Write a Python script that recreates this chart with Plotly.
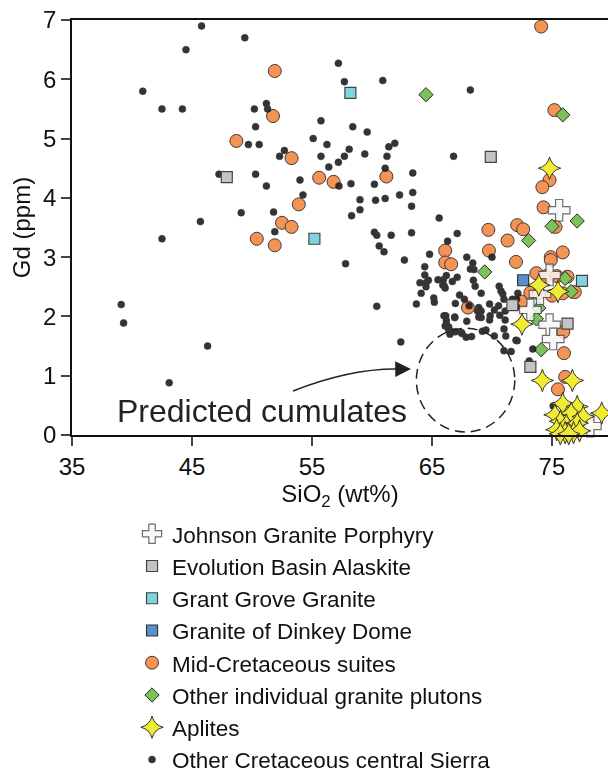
import plotly.graph_objects as go

# ---------------- data (SiO2 wt%, Gd ppm) ----------------
johnson_x = [75.6, 74.8, 74.0, 73.2, 74.8, 75.1, 78.2]
johnson_y = [3.79, 2.70, 2.38, 2.11, 1.86, 1.62, 0.15]

evolution_x = [47.9, 69.9, 71.7, 76.3, 73.2]
evolution_y = [4.35, 4.69, 2.19, 1.88, 1.15]

grantgrove_x = [58.2, 55.2, 77.5]
grantgrove_y = [5.77, 3.31, 2.60]

dinkey_x = [72.6]
dinkey_y = [2.61]

midcret_x = [51.9, 51.75, 48.7, 53.3, 53.9, 52.5, 53.3, 50.4, 51.9, 55.6, 56.8, 61.2,
             74.1, 75.2, 74.8, 74.2, 74.3, 72.1, 72.6, 75.3, 69.7, 71.3, 66.1, 69.75,
             75.9, 74.9, 74.9, 72.0, 66.1, 66.6, 73.7, 74.5, 75.4, 76.3, 68.0, 72.45,
             73.2, 73.9, 75.0, 75.9, 76.9, 75.95, 76.0, 76.1, 75.5]
midcret_y = [6.14, 5.38, 4.96, 4.67, 3.89, 3.58, 3.51, 3.31, 3.20, 4.34, 4.27, 4.36,
             6.89, 5.48, 4.30, 4.18, 3.84, 3.54, 3.47, 3.51, 3.46, 3.28, 3.11, 3.11,
             3.08, 3.00, 2.95, 2.92, 2.91, 2.88, 2.73, 2.68, 2.68, 2.67, 2.15, 2.25,
             2.40, 2.39, 2.35, 2.39, 2.41, 1.74, 1.38, 0.98, 0.77]

othergranite_x = [64.5, 75.9, 77.1, 75.0, 73.05, 76.1, 76.6, 73.9, 73.7, 74.1, 69.4]
othergranite_y = [5.74, 5.40, 3.61, 3.52, 3.28, 2.64, 2.42, 2.14, 1.96, 1.44, 2.75]

aplite_x = [74.8, 73.9, 75.5, 72.5, 74.2, 76.7, 79.15,
            75.9, 77.1, 75.25, 76.6, 77.6, 75.7, 76.2, 77.1, 75.4, 76.1, 76.8, 77.3, 75.7, 76.4]
aplite_y = [4.50, 2.53, 2.42, 1.87, 0.92, 0.92, 0.37,
            0.53, 0.48, 0.34, 0.37, 0.31, 0.23, 0.17, 0.20, 0.09, 0.04, 0.04, 0.07, 0.02, 0.02]

othercret_x = [45.8, 49.4, 44.5, 40.9, 42.5, 44.2, 51.2, 50.2, 51.3, 50.3, 49.7, 50.6, 52.7,
               52.3, 47.25, 50.3, 54.0, 51.2, 54.25, 49.1, 51.8, 45.7, 51.9, 42.5, 39.1, 39.3,
               46.3, 43.1,
               57.2, 57.7, 60.9, 68.2, 55.75, 58.4, 59.6, 55.1, 56.25, 58.1, 61.9, 61.4, 55.75,
               57.7, 59.4, 61.25, 66.8, 57.2, 56.4, 61.1, 63.4, 57.25, 58.25, 60.2, 62.3, 63.4,
               59.0, 60.3, 61.1, 59.0, 58.3, 63.3, 65.6, 60.2, 60.4, 61.6, 63.3, 67.1, 66.3,
               60.6, 61.0, 64.8, 62.7, 57.8, 60.4, 63.7, 62.4,
               67.9, 70.0, 68.4, 68.2, 68.5, 64.4, 64.4, 64.0, 64.5, 64.7, 64.5, 65.5, 65.95,
               66.0, 66.2, 66.7, 67.1, 65.9, 66.1, 68.45, 68.6, 69.1, 64.1, 65.15, 65.2, 67.3,
               67.7, 66.95, 68.1, 68.9, 68.8, 69.1, 69.8, 70.55, 70.2, 69.8, 69.85, 69.1, 68.9,
               67.9, 66.9, 66.15, 66.2, 66.1, 66.4, 66.65, 66.5, 66.95, 67.45, 67.85, 68.3,
               69.2, 69.5, 70.2, 71.0, 71.15, 72.0, 71.1, 71.1, 70.65, 70.6, 70.75, 70.9, 71.0,
               72.15, 71.0, 71.6, 73.4, 73.1, 75.1, 66.0, 66.9, 66.4, 66.2, 67.5, 72.05, 71.7,
               72.1, 72.05]
othercret_y = [6.90, 6.70, 6.50, 5.80, 5.50, 5.50, 5.59, 5.50, 5.50, 5.20, 4.90, 4.90, 4.80,
               4.70, 4.40, 4.40, 4.30, 4.20, 4.05, 3.75, 3.76, 3.60, 3.43, 3.31, 2.20, 1.89,
               1.50, 0.88,
               6.27, 5.96, 5.98, 5.82, 5.30, 5.20, 5.11, 5.00, 4.90, 4.82, 4.92, 4.86, 4.70,
               4.70, 4.74, 4.70, 4.70, 4.60, 4.52, 4.50, 4.42, 4.20, 4.24, 4.23, 4.05, 4.09,
               3.97, 3.96, 3.99, 3.80, 3.70, 3.86, 3.66, 3.42, 3.37, 3.37, 3.41, 3.40, 3.27,
               3.19, 3.09, 3.05, 2.95, 2.89, 2.17, 2.21, 1.57,
               3.00, 3.00, 2.90, 2.80, 2.79, 2.84, 2.70, 2.57, 2.57, 2.61, 2.50, 2.62, 2.62,
               2.52, 2.69, 2.59, 2.66, 2.53, 2.48, 2.61, 2.51, 2.39, 2.39, 2.31, 2.24, 2.36,
               2.29, 2.22, 2.18, 2.15, 2.09, 2.09, 2.21, 2.18, 2.11, 1.94, 2.01, 1.98, 1.99,
               1.92, 1.98, 2.01, 1.93, 1.84, 1.77, 1.74, 1.70, 1.74, 1.73, 1.65, 1.66,
               1.75, 1.77, 1.67, 1.79, 1.67, 1.60, 1.94, 2.09, 2.02, 2.51, 2.43, 2.38, 2.29,
               2.39, 1.42, 1.41, 1.45, 1.25, 0.49, 2.01, 1.99, 1.82, 1.87, 1.71, 2.29, 2.29,
               1.59, 2.16]

x_ticks = [35, 45, 55, 65, 75]
y_ticks = [0, 1, 2, 3, 4, 5, 6, 7]

FONT = "Liberation Sans, Arial, Helvetica, sans-serif"
EDGE = "#2a2a2a"

fig = go.Figure()

def add(name, xs, ys, symbol, size, color, rank, opacity=1.0, lw=1.0, lc=EDGE):
    fig.add_trace(go.Scatter(
        x=xs, y=ys, mode="markers", name=name, legendrank=rank,
        legendgroup=name, cliponaxis=False, opacity=opacity,
        marker=dict(symbol=symbol, size=size, color=color,
                    line=dict(color=lc, width=lw)),
    ))

add("Mid-Cretaceous suites", midcret_x, midcret_y, "circle", 13, "#F58A45", 5, 0.92)
add("Other individual granite plutons", othergranite_x, othergranite_y, "diamond", 11, "#7DC159", 6)
add("Other Cretaceous central Sierra", othercret_x, othercret_y, "circle", 7, "#1e1e1e", 8, 0.9, 0.5, "#1e1e1e")
add("Evolution Basin Alaskite", evolution_x, evolution_y, "square", 11, "#C4C4C4", 2, 1.0, 1.2, "#444")
add("Grant Grove Granite", grantgrove_x, grantgrove_y, "square", 11, "#80D4DE", 3, 1.0, 1.2, "#444")
add("Granite of Dinkey Dome", dinkey_x, dinkey_y, "square", 11, "#5B8FCB", 4, 1.0, 1.2, "#333")
add("Johnson Granite Porphyry", johnson_x, johnson_y, "cross", 18, "#F7F7F7", 1, 0.85, 1.2, "#555")
add("Aplites", aplite_x, aplite_y, "star-diamond", 16, "#F1EB32", 7, 1.0, 1.0, "#333")

# predicted cumulates field
fig.add_shape(type="circle", xref="x", yref="y", x0=63.7, x1=71.9, y0=0.05, y1=1.8,
              line=dict(color="#222", width=1.5, dash="10px,6px"))
fig.add_shape(type="path", xref="x", yref="y",
              path="M 53.42,0.742 Q 58.3,1.13 62.3,1.112",
              line=dict(color="#222", width=1.5))
fig.add_annotation(x=63.25, y=1.113, ax=62.2, ay=1.111, xref="x", yref="y",
                   axref="x", ayref="y", showarrow=True, arrowhead=2,
                   arrowsize=2.1, arrowwidth=1.5, arrowcolor="#222", text="")
fig.add_annotation(x=38.6, y=0.40, xref="x", yref="y", text="Predicted cumulates",
                   showarrow=False, xanchor="left", yanchor="middle",
                   font=dict(family=FONT, size=32, color="#222"))

fig.update_layout(
    width=608, height=777,
    margin=dict(l=72, r=0, t=20, b=342, autoexpand=False),
    paper_bgcolor="white", plot_bgcolor="white",
    font=dict(family=FONT, size=24, color="#111"),
    showlegend=True,
    legend=dict(x=0.112, y=-0.187, xanchor="left", yanchor="top",
                font=dict(family=FONT, size=22.5, color="#111"),
                tracegroupgap=0, bgcolor="rgba(0,0,0,0)"),
    xaxis=dict(range=[35, 79.67], tickvals=x_ticks, ticks="outside", ticklen=9,
               tickwidth=1.5, showline=True, linewidth=1.5, linecolor="#111",
               mirror=True, showgrid=False, zeroline=False,
               tickfont=dict(size=24),
               title=dict(text="SiO<sub>2</sub> (wt%)", standoff=3, font=dict(size=24))),
    yaxis=dict(range=[0, 7], tickvals=y_ticks, ticks="outside", ticklen=9,
               tickwidth=1.5, showline=True, linewidth=1.5, linecolor="#111",
               showgrid=False, zeroline=False, tickfont=dict(size=24),
               title=dict(text="Gd (ppm)", standoff=6, font=dict(size=24))),
)

fig.write_html("out.html")
